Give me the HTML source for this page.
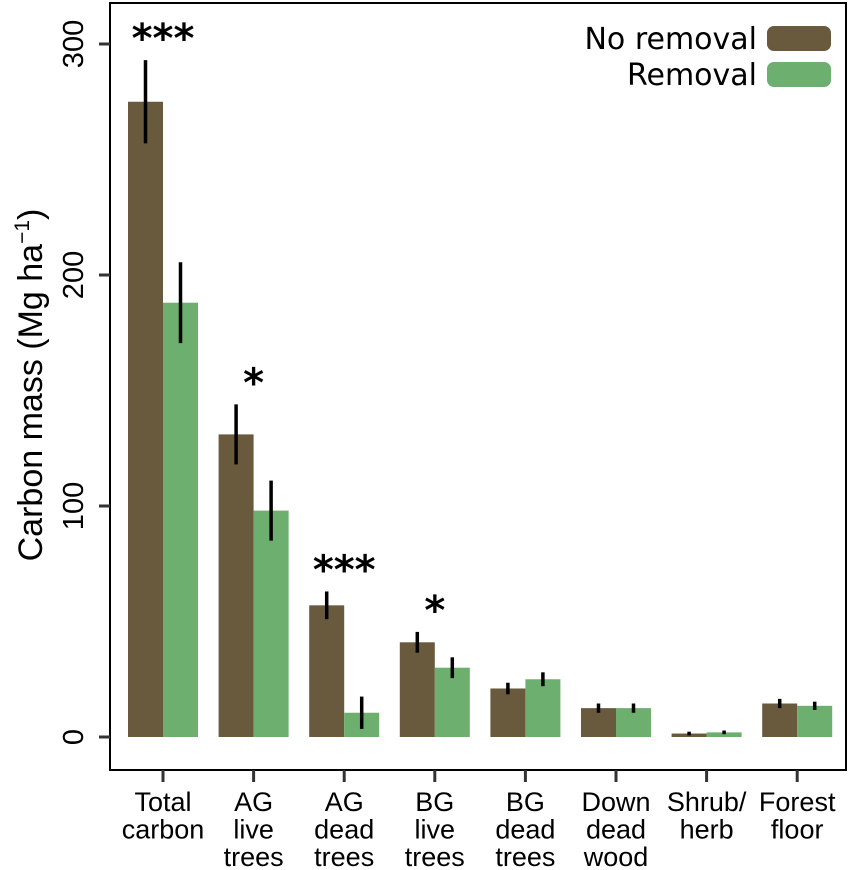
<!DOCTYPE html>
<html><head><meta charset="utf-8"><style>
html,body{margin:0;padding:0;background:#fff;}
svg{display:block;font-family:"Liberation Sans",sans-serif;}
</style></head><body>
<svg id="chart" width="851" height="870" viewBox="0 0 851 870" xmlns="http://www.w3.org/2000/svg">
<rect x="110" y="3" width="736" height="767" fill="none" stroke="#000" stroke-width="2"/>
<g id="bars"></g>
<g id="axes"></g>
<text transform="translate(42,385) rotate(-90)" text-anchor="middle" font-size="34">Carbon mass (Mg ha<tspan dy="-13" font-size="21">−1</tspan><tspan dy="13">)</tspan></text>
<g font-family="DejaVu Sans, sans-serif" font-size="30">
<text x="757" y="49" text-anchor="end">No removal</text>
<rect x="767" y="26" width="64" height="25" rx="7" fill="#695a3e"/>
<text x="757" y="85" text-anchor="end">Removal</text>
<rect x="767" y="62" width="64" height="25" rx="7" fill="#6caf6e"/>
</g>
</svg>
<script>
const categories = [["Total","carbon"],["AG","live","trees"],["AG","dead","trees"],["BG","live","trees"],["BG","dead","trees"],["Down","dead","wood"],["Shrub/","herb"],["Forest","floor"]];
const noRemoval = [275, 131, 57, 41, 21, 12.5, 1.5, 14.5];
const noRemovalErr = [18, 13, 6, 4.5, 2.5, 2, 0.8, 2];
const removal = [188, 98, 10.5, 30, 25, 12.5, 2, 13.5];
const removalErr = [17.5, 13, 7, 4.5, 3, 2, 0.8, 1.8];
const significance = ["***", "*", "***", "*", "", "", "", ""];
const yTicks = [0, 100, 200, 300];

const NS = "http://www.w3.org/2000/svg";
const y = v => 737 - v * 2.31;
const x = i => 163 + i * 90.6;
const BW = 35;
function mk(tag, attrs, parent) {
  const e = document.createElementNS(NS, tag);
  for (const k in attrs) e.setAttribute(k, attrs[k]);
  parent.appendChild(e);
  return e;
}
const bars = document.getElementById("bars");
const axes = document.getElementById("axes");
categories.forEach((c, i) => {
  const cx = x(i);
  const b1 = mk("rect", {x: cx - BW, y: y(noRemoval[i]), width: BW, height: y(0) - y(noRemoval[i]), fill: "#695a3e"}, bars);
  
  
  const b2 = mk("rect", {x: cx, y: y(removal[i]), width: BW, height: y(0) - y(removal[i]), fill: "#6caf6e"}, bars);
  
  
  const e1 = mk("line", {x1: cx - BW / 2, x2: cx - BW / 2, y1: y(noRemoval[i] - noRemovalErr[i]), y2: y(noRemoval[i] + noRemovalErr[i]), stroke: "#000", "stroke-width": 3.5}, bars);
  
  
  const e2 = mk("line", {x1: cx + BW / 2, x2: cx + BW / 2, y1: y(removal[i] - removalErr[i]), y2: y(removal[i] + removalErr[i]), stroke: "#000", "stroke-width": 3.5}, bars);
  
  
  if (significance[i]) {
    const top = Math.max(noRemoval[i] + noRemovalErr[i], removal[i] + removalErr[i]);
    const s = mk("text", {x: cx, y: y(top) - 8, "text-anchor": "middle", "font-size": 40, "font-weight": "bold", "font-family": "DejaVu Sans, sans-serif"}, bars);
    s.textContent = significance[i];
    
    
  }
  const t = mk("line", {x1: cx, x2: cx, y1: 770, y2: 782, stroke: "#333", "stroke-width": 3}, axes);
  
  
  const lbl = mk("text", {x: cx, "text-anchor": "middle", "font-size": 27}, axes);
  
  
  c.forEach((w, j) => {
    const ts = mk("tspan", {x: cx, y: 811 + j * 27.5}, lbl);
    ts.textContent = w;
  });
});
yTicks.forEach(v => {
  const t = mk("line", {x1: 99, x2: 110, y1: y(v), y2: y(v), stroke: "#333", "stroke-width": 3}, axes);
  
  
  const l = mk("text", {transform: `translate(83,${y(v)}) rotate(-90)`, "text-anchor": "middle", "font-size": 29}, axes);
  l.textContent = v;
  
  
});
</script>
</body></html>
